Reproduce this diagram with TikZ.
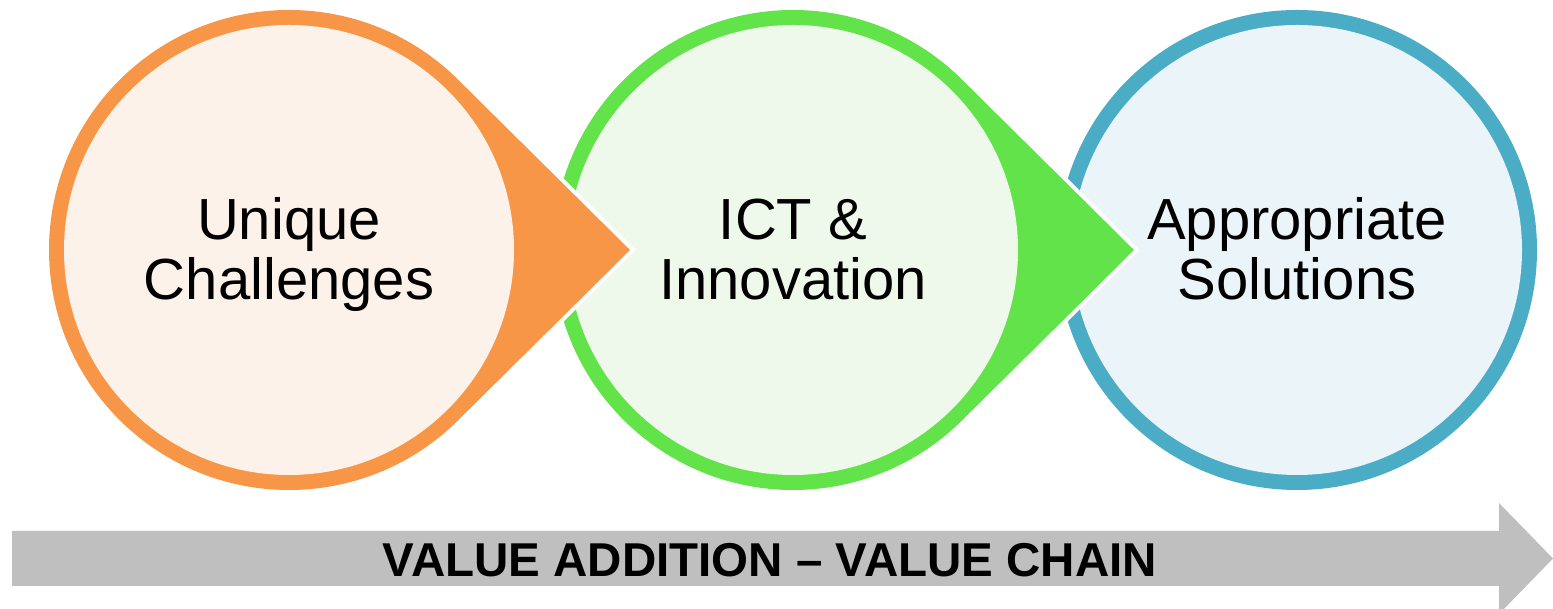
\documentclass[tikz,border=0pt]{standalone}
\usepackage{fontspec}
\setmainfont{Liberation Sans}
\usetikzlibrary{calc}
\definecolor{ringO}{HTML}{F79646}
\definecolor{fillO}{HTML}{FDF2EA}
\definecolor{ringG}{HTML}{62E349}
\definecolor{fillG}{HTML}{EEF9EB}
\definecolor{ringB}{HTML}{4BACC6}
\definecolor{fillB}{HTML}{EBF5F9}
\definecolor{arrowgray}{HTML}{BFBFBF}
\begin{document}
\begin{tikzpicture}[x=1pt,y=1pt,
  innerdisc/.style={circle, minimum size=450pt, inner sep=0pt, draw=none},
  label58/.style={anchor=base, align=center, inner sep=0pt, font=\fontsize{58}{60}\selectfont, text=black},
  gap/.style={white, line width=8pt, line join=miter}]
\useasboundingbox (0,0) rectangle (1553,609);
\clip (0,0) rectangle (1553,609);
\coordinate (cO) at (289,359);
\coordinate (cG) at (793,359);
\coordinate (cB) at (1297,359);
% blue circle
\fill[ringB] (cB) circle[radius=240];
\node[innerdisc, fill=fillB] (dB) at (cB) {};
% green teardrop
\filldraw[gap] ($(cG)+(45:240)$) arc[start angle=45,end angle=315,radius=240] -- ($(cG)+(341,0)$) -- cycle;
\fill[ringG] ($(cG)+(45:240)$) arc[start angle=45,end angle=315,radius=240] -- ($(cG)+(341,0)$) -- cycle;
\node[innerdisc, fill=fillG] (dG) at (cG) {};
% orange teardrop
\filldraw[gap] ($(cO)+(45:240)$) arc[start angle=45,end angle=315,radius=240] -- ($(cO)+(341,0)$) -- cycle;
\fill[ringO] ($(cO)+(45:240)$) arc[start angle=45,end angle=315,radius=240] -- ($(cO)+(341,0)$) -- cycle;
\node[innerdisc, fill=fillO] (dO) at (cO) {};
% labels
\node[label58] (tO) at ([yshift=-50pt]dO.center) {Unique\\Challenges};
\node[label58] (tG) at ([yshift=-50pt]dG.center) {ICT \&\\Innovation};
\node[label58] (tB) at ([yshift=-50pt]dB.center) {Appropriate\\Solutions};
% bottom arrow
\fill[arrowgray] (12,78) -- (1499,78) -- (1499,106) -- (1553,50.5) -- (1499,-5) -- (1499,23) -- (12,23) -- cycle;
\node[anchor=base, inner sep=0pt, font=\fontsize{47.5}{50}\selectfont\bfseries] (va) at (770,32) {VALUE ADDITION – VALUE CHAIN};
\end{tikzpicture}
\end{document}
